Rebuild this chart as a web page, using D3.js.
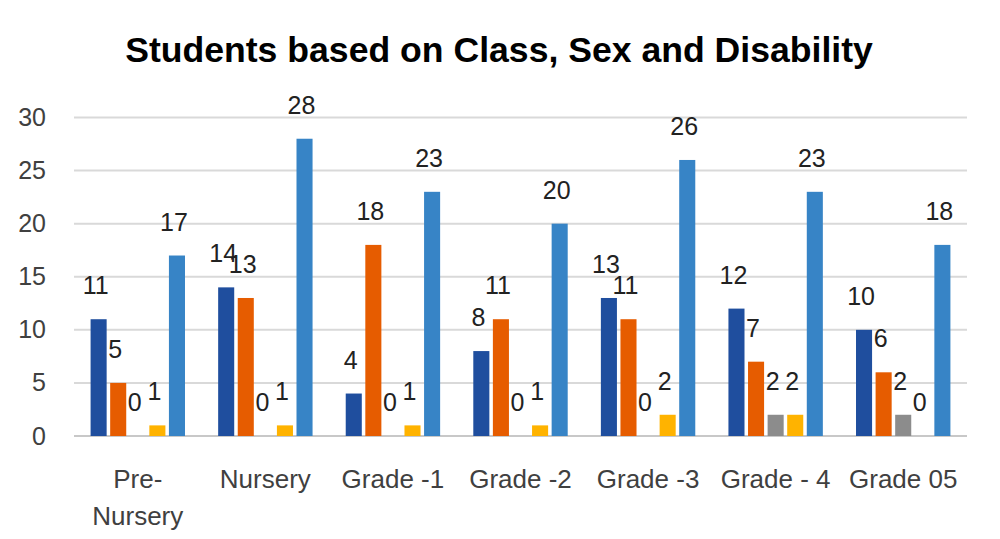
<!DOCTYPE html>
<meta charset="utf-8">
<style type="text/css">
    body{
      margin: 0;
      background: #fff;
    }
    svg{
      display: block;
    }
    text {
      font-family: "Liberation Sans", Arial, sans-serif;
    }
</style>
<body>
<script src="https://cdnjs.cloudflare.com/ajax/libs/d3/7.8.5/d3.min.js"></script>
<script>
// chart data
var classes = ["Pre-Nursery", "Nursery", "Grade -1", "Grade -2", "Grade -3", "Grade - 4", "Grade 05"];
var series  = ["Boys", "Girls", "Boys with disability", "Girls with disability", "Total"];
var boys        = [11, 14, 4, 8, 13, 12, 10];
var girls       = [5, 13, 18, 11, 11, 7, 6];
var boysDisab   = [0, 0, 0, 0, 0, 2, 2];
var girlsDisab  = [1, 1, 1, 1, 2, 2, 0];
var totals      = [17, 28, 23, 20, 26, 23, 18];
var yTicks      = [0, 5, 10, 15, 20, 25, 30];

var colors = ["#1f4e9e", "#e65c00", "#8c8c8c", "#ffb300", "#3784c6"];

var width = 1000, height = 539;

var svg = d3.select("body")
  .append("svg")
  .attr("width", width)
  .attr("height", height);

//build rows, one per class
var seriesValues = [boys, girls, boysDisab, girlsDisab, totals];
var rows = classes.map(function(c, i){
  return {
    name: c,
    values: series.map(function(s, j){ return {key: s, idx: j, value: seriesValues[j][i]}; })
  };
});

//scales
var x0 = d3.scaleBand()
  .domain(classes)
  .range([74, 967])
  .paddingInner(0.26)
  .paddingOuter(0.13);

var x1 = d3.scaleBand()
  .domain(series)
  .range([0, x0.bandwidth()])
  .paddingInner(0.18);

var y = d3.scaleLinear()
  .domain([0, 30])
  .range([436, 117.5]);

//title, scaled to the width of the reference
var title = svg.append("text")
  .attr("x", 499)
  .attr("y", 62)
  .attr("text-anchor", "middle")
  .style("font-weight", "bold")
  .style("font-size", "30px")
  .attr("fill", "#000")
  .text("Students based on Class, Sex and Disability");
var tw = title.node().getComputedTextLength();
title.style("font-size", (30 * 748 / tw) + "px");

//gridlines
svg.append("g")
  .selectAll("line")
  .data(yTicks)
  .join("line")
  .attr("x1", 74)
  .attr("x2", 967)
  .attr("y1", function(d){ return y(d); })
  .attr("y2", function(d){ return y(d); })
  .attr("stroke", function(d){ return d === 0 ? "#c8c8c8" : "#d9d9d9"; })
  .attr("stroke-width", 2);

//y axis labels
var yAxis = svg.append("g")
  .attr("transform", "translate(50,0)")
  .call(d3.axisLeft(y).tickValues(yTicks).tickSize(0).tickPadding(4));
yAxis.select(".domain").remove();
yAxis.selectAll("text")
  .style("font-family", "'Liberation Sans', Arial, sans-serif")
  .style("font-size", "25px")
  .attr("fill", "#404040");

//category labels with wrapping on the hyphen
var xAxis = svg.append("g")
  .selectAll("text")
  .data(classes)
  .join("text")
  .attr("text-anchor", "middle")
  .attr("x", function(d){ return x0(d) + x0.bandwidth() / 2; })
  .attr("y", 488)
  .style("font-size", "26px")
  .attr("fill", "#404040");

xAxis.each(function(d){
  var t = d3.select(this);
  if (d === "Pre-Nursery") {
    t.append("tspan").attr("x", t.attr("x")).text("Pre-");
    t.append("tspan").attr("x", t.attr("x")).attr("dy", 37).text("Nursery");
  } else {
    t.text(d);
  }
});

//bars
var groups = svg.append("g")
  .selectAll("g")
  .data(rows)
  .join("g")
  .attr("transform", function(d){ return "translate(" + x0(d.name) + ",0)"; });

groups.selectAll("rect")
  .data(function(d){ return d.values; })
  .join("rect")
  .attr("x", function(d){ return x1(d.key); })
  .attr("width", x1.bandwidth())
  .attr("y", function(d){ return y(d.value); })
  .attr("height", function(d){ return y(0) - y(d.value); })
  .attr("fill", function(d){ return colors[d.idx]; });

//value labels
groups.selectAll("text")
  .data(function(d){ return d.values; })
  .join("text")
  .attr("text-anchor", "middle")
  .attr("x", function(d){ return x1(d.key) + x1.bandwidth() / 2 - 3; })
  .attr("y", function(d){ return y(d.value) - 25; })
  .style("font-size", "25px")
  .attr("fill", "#222")
  .text(function(d){ return d.value; });
</script>
